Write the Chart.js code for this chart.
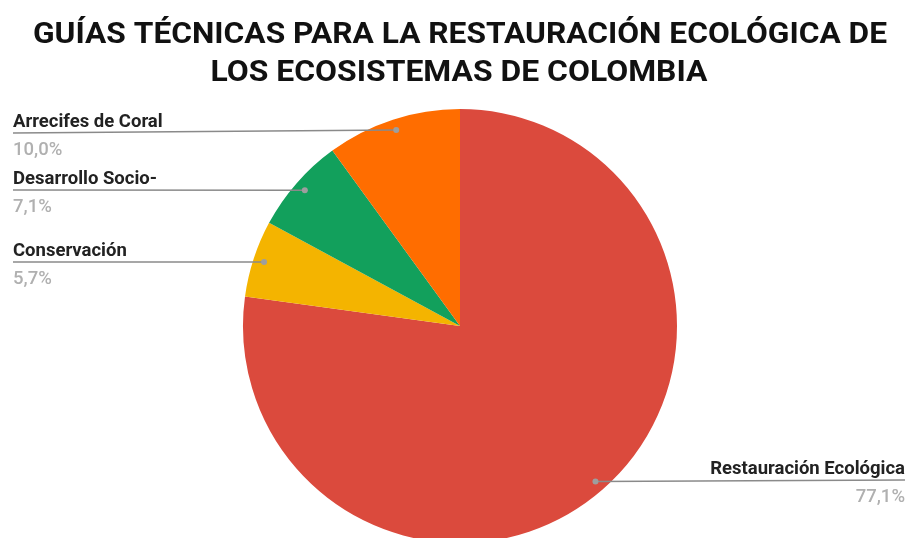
<!DOCTYPE html>
<html>
<head>
<meta charset="utf-8">
<script src="https://cdn.jsdelivr.net/npm/chart.js@4.4.0/dist/chart.umd.min.js"></script>
<style>
  html, body { margin: 0; padding: 0; background: #fff; overflow: hidden; }
  #wrap { position: relative; width: 911px; height: 560px; }
</style>
</head>
<body>
<div id="wrap"><canvas id="graphique"></canvas></div>
<script>
// Données du graphique
const categories = ["Restauración Ecológica", "Conservación", "Desarrollo Socio-", "Arrecifes de Coral"];
const valeurs = [77.1, 5.7, 7.1, 10.0];
const etiquettesValeurs = ["77,1%", "5,7%", "7,1%", "10,0%"];
const couleurs = ["#db4a3d", "#f4b400", "#12a05c", "#ff6d00"];
const titreLignes = ["GUÍAS TÉCNICAS PARA LA RESTAURACIÓN ECOLÓGICA DE", "LOS ECOSISTEMAS DE COLOMBIA"];

// Position verticale des lignes de légende (mise en page)
const ligneY = [480, 262, 190, 133];

// Texte étiré/compressé horizontalement pour tenir dans une largeur donnée
function texteLargeur(ctx, texte, x, y, largeur, align) {
  const w = ctx.measureText(texte).width;
  const s = largeur / w;
  ctx.save();
  ctx.translate(x, y);
  ctx.scale(s, 1);
  ctx.textAlign = align;
  ctx.fillText(texte, 0, 0);
  ctx.restore();
}

// Titre dessiné à la main
const titrePlugin = {
  id: "titre",
  afterDraw(chart) {
    const ctx = chart.ctx;
    ctx.save();
    ctx.fillStyle = "#111";
    ctx.textBaseline = "alphabetic";
    ctx.font = "bold 30px Roboto";
    texteLargeur(ctx, titreLignes[0], 460, 43, 854, "center");
    texteLargeur(ctx, titreLignes[1], 459, 81, 497, "center");
    ctx.restore();
  }
};

// Etiquettes avec lignes de rappel
const etiquettesPlugin = {
  id: "etiquettes",
  afterDatasetsDraw(chart) {
    const ctx = chart.ctx;
    const arcs = chart.getDatasetMeta(0).data;
    ctx.save();
    for (let i = 0; i < arcs.length; i++) {
      const arc = arcs[i];
      const milieu = (arc.startAngle + arc.endAngle) / 2;
      const px = arc.x + Math.cos(milieu) * arc.outerRadius * 0.95;
      const py = arc.y + Math.sin(milieu) * arc.outerRadius * 0.95;
      const droite = Math.cos(milieu) > 0;
      const y = ligneY[i];
      const xFin = droite ? 905 : 13;

      // ligne
      ctx.strokeStyle = "#8a8a8a";
      ctx.lineWidth = 1.5;
      ctx.beginPath();
      ctx.moveTo(px, py);
      ctx.lineTo(xFin, y);
      ctx.stroke();
      // point
      ctx.fillStyle = "#9e9e9e";
      ctx.beginPath();
      ctx.arc(px, py, 3, 0, Math.PI * 2);
      ctx.fill();

      // textes
      ctx.textAlign = droite ? "right" : "left";
      ctx.textBaseline = "alphabetic";
      ctx.font = "bold 18.5px Roboto";
      ctx.fillStyle = "#222";
      ctx.fillText(categories[i], xFin, y - 6);
      ctx.font = "500 18.5px Roboto";
      ctx.fillStyle = "#b0b0b0";
      ctx.fillText(etiquettesValeurs[i], xFin, y + 22);
    }
    ctx.restore();
  }
};

const data = {
  labels: categories,
  datasets: [{
    data: valeurs,
    backgroundColor: couleurs,
    borderWidth: 0,
    hoverOffset: 0
  }]
};

const config = {
  type: "pie",
  data: data,
  options: {
    responsive: true,
    maintainAspectRatio: false,
    animation: false,
    events: [],
    layout: {
      padding: { top: 109, left: 243, right: 234, bottom: 17 }
    },
    plugins: {
      legend: { display: false },
      tooltip: { enabled: false },
      title: { display: false }
    }
  },
  plugins: [titrePlugin, etiquettesPlugin]
};

new Chart(document.querySelector("#graphique"), config);
</script>
</body>
</html>
